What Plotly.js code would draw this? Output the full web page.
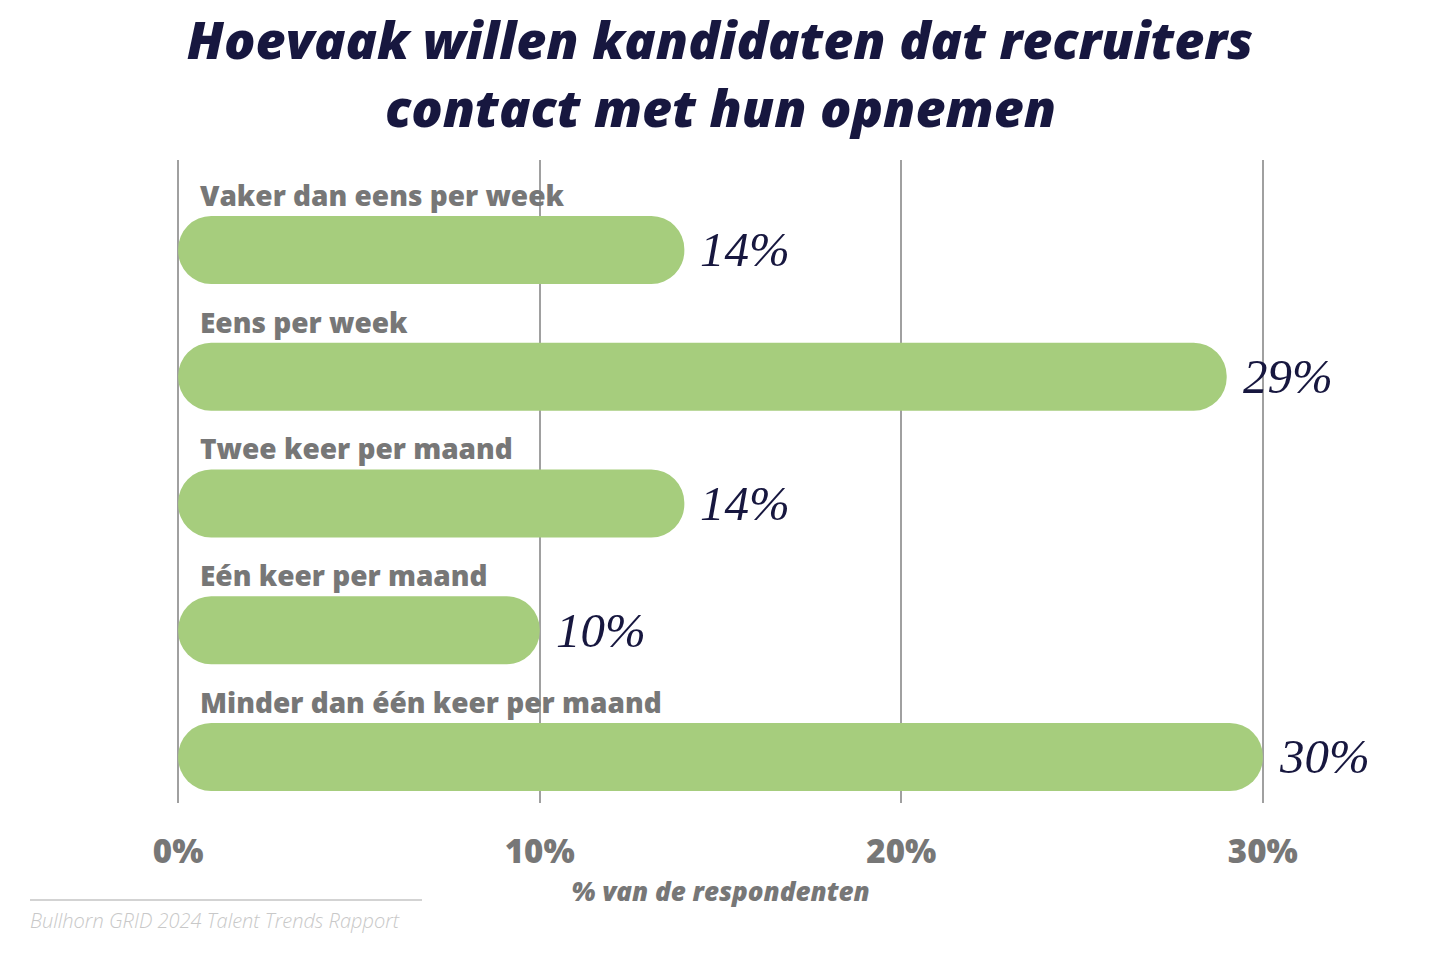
<!DOCTYPE html>
<html>
<head>
<meta charset="utf-8">
<script src="https://cdn.plot.ly/plotly-3.0.1.min.js"></script>
<style>html,body{margin:0;padding:0;background:#fff;}#chart{width:1440px;height:956px;}</style>
</head>
<body>
<div id="chart"></div>
<script>
const categories = ["Vaker dan eens per week", "Eens per week", "Twee keer per maand", "Eén keer per maand", "Minder dan één keer per maand"];
const values = [14, 29, 14, 10, 30];
const valueLabels = ["14%", "29%", "14%", "10%", "30%"];
const tickVals = [0, 10, 20, 30];
const tickText = ["0%", "10%", "20%", "30%"];
const titleLines = ["Hoevaak willen kandidaten dat recruiters", "contact met hun opnemen"];

const GREEN = "#a6cd7d";
const NAVY = "#17173f";
const GRAY = "#777777";
const SANS = "'Open Sans', 'Liberation Sans', Arial, sans-serif";

const ML = 142, MR = 141, MT = 160, MB = 153, W = 1440, H = 956;
const PW = W - ML - MR, PH = H - MT - MB;
const px = x => (x - ML) / PW;
const py = y => (H - MB - y) / PH;

const bars = {
  type: "bar", orientation: "h",
  y: categories, x: values, base: values.map(() => 0),
  width: 0.536,
  marker: { color: GREEN, cornerradius: "50%", line: { width: 0 } },
  hoverinfo: "skip", showlegend: false
};

const annotations = [];
categories.forEach((c, i) => {
  annotations.push({
    xref: "x", yref: "y", x: 0, y: c, xanchor: "left", yanchor: "bottom",
    xshift: 20, yshift: 34, text: c, showarrow: false,
    font: { family: SANS, size: 28, color: GRAY, weight: 800 }
  });
  annotations.push({
    xref: "x", yref: "y", x: values[i], y: c, xanchor: "left", yanchor: "middle",
    xshift: 14, yshift: 0, text: valueLabels[i], showarrow: false,
    font: { family: "'Liberation Serif', 'DejaVu Serif', serif", size: 49, color: NAVY, style: "italic" }
  });
});
annotations.push({
  xref: "paper", yref: "paper", x: px(720), y: py(107), xanchor: "center", yanchor: "middle",
  text: titleLines[1], showarrow: false,
  font: { family: SANS, size: 52, color: NAVY, weight: 800, style: "italic" }
});
annotations.push({
  xref: "paper", yref: "paper", x: px(28), y: py(921), xanchor: "left", yanchor: "middle",
  text: "Bullhorn GRID 2024 Talent Trends Rapport", showarrow: false,
  font: { family: SANS, size: 20, color: "#c8c8c8", style: "italic", weight: 300 }
});

const layout = {
  width: W, height: H,
  paper_bgcolor: "#fff", plot_bgcolor: "#fff",
  margin: { l: ML, r: MR, t: MT, b: MB },
  title: {
    text: titleLines[0],
    x: 0.5, xanchor: "center", y: 1 - 41 / H, yanchor: "middle",
    font: { family: SANS, size: 52, color: NAVY, weight: 800, style: "italic" }
  },
  xaxis: {
    range: [-1, 31], tickvals: tickVals, ticktext: tickText,
    showgrid: true, gridcolor: "#a0a0a0", gridwidth: 2, zeroline: false,
    showline: false, ticks: "", ticklabelstandoff: 26,
    tickfont: { family: SANS, size: 33, color: GRAY, weight: 800 },
    title: { text: "% van de respondenten", standoff: 10,
      font: { family: SANS, size: 26, color: GRAY, weight: 800, style: "italic" } },
    fixedrange: true
  },
  yaxis: {
    type: "category", range: [4.363, -0.71], showticklabels: false,
    showgrid: false, zeroline: false, showline: false, ticks: "", fixedrange: true
  },
  shapes: [{
    type: "line", xref: "paper", yref: "paper",
    x0: px(30), x1: px(422), y0: py(900), y1: py(900),
    line: { color: "#d3d3d3", width: 2 }
  }],
  annotations: annotations
};

Plotly.newPlot("chart", [bars], layout, { displayModeBar: false, staticPlot: true });
</script>
</body>
</html>
